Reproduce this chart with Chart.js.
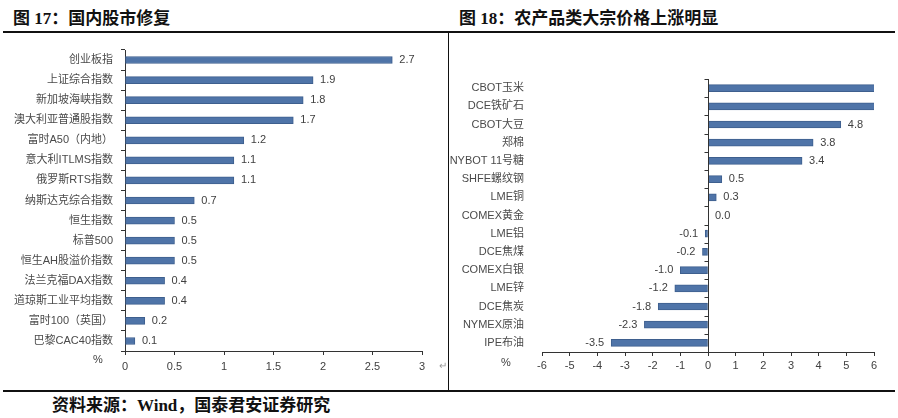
<!DOCTYPE html>
<html>
<head>
<meta charset="utf-8">
<script src="https://cdn.jsdelivr.net/npm/chart.js@4.4.1/dist/chart.umd.min.js"></script>
<style>
    body { margin: 0; background: #fff; width: 898px; height: 418px; position: relative; overflow: hidden; }
    .title { position: absolute; top: 4px; font: bold 17px "Liberation Serif", "Noto Sans CJK SC", serif; color: #111; white-space: nowrap; }
    .line { position: absolute; background: #111; }
    .unit { position: absolute; font: 11px "Liberation Sans", "Noto Sans CJK SC", sans-serif; color: #404040; }
    .source { position: absolute; left: 52px; top: 391px; font: bold 17px "Liberation Serif", "Noto Sans CJK SC", serif; color: #111; white-space: nowrap; }
    canvas { position: absolute; }
</style>
</head>
<body>
<div class="title" style="left:13px">图 17：国内股市修复</div>
<div class="title" style="left:459px">图 18：农产品类大宗价格上涨明显</div>

<div class="line" style="left:3px; top:31px; width:892px; height:1.5px"></div>
<div class="line" style="left:448px; top:31px; width:1px; height:361px"></div>
<div class="line" style="left:3px; top:390px; width:892px; height:1.5px"></div>

<canvas id="stockChart" style="left:0; top:34px" width="448" height="354"></canvas>
<canvas id="commodityChart" style="left:450px; top:34px" width="446" height="354"></canvas>

<div class="unit" style="left:93px; top:353px">%</div>
<div class="unit" style="left:439px; top:360px; color:#999; font-size:10px">↵</div>
<div class="unit" style="left:501px; top:356px">%</div>

<div class="source">资料来源：Wind，国泰君安证券研究</div>

<script>
// 图17 国内股市修复 (%)
const stockNames = ['创业板指', '上证综合指数', '新加坡海峡指数', '澳大利亚普通股指数', '富时A50（内地）',
    '意大利ITLMS指数', '俄罗斯RTS指数', '纳斯达克综合指数', '恒生指数', '标普500',
    '恒生AH股溢价指数', '法兰克福DAX指数', '道琼斯工业平均指数', '富时100（英国）', '巴黎CAC40指数'];
const stockValues = [2.7, 1.9, 1.8, 1.7, 1.2, 1.1, 1.1, 0.7, 0.5, 0.5, 0.5, 0.4, 0.4, 0.2, 0.1];
const stockTicks = [0, 3, 0.5];   // min, max, step

// 图18 农产品类大宗价格上涨明显 (%)
const commodityNames = ['CBOT玉米', 'DCE铁矿石', 'CBOT大豆', '郑棉', 'NYBOT 11号糖',
    'SHFE螺纹钢', 'LME铜', 'COMEX黄金', 'LME铝', 'DCE焦煤',
    'COMEX白银', 'LME锌', 'DCE焦炭', 'NYMEX原油', 'IPE布油'];
const commodityValues = [6.5, 6.3, 4.8, 3.8, 3.4, 0.5, 0.3, 0.0, -0.1, -0.2, -1.0, -1.2, -1.8, -2.3, -3.5];
const commodityTicks = [-6, 6, 1];

const barColor = '#4f74a8';
const textColor = '#404040';
const labelColor = '#4a4a4a';
const axisColor = '#333';

// value labels next to bar ends
const valueLabels = {
    id: 'valueLabels',
    afterDatasetsDraw(chart) {
        const ctx = chart.ctx;
        const xMax = chart.scales.x.max;
        const meta = chart.getDatasetMeta(0);
        const values = chart.data.datasets[0].data;
        ctx.save();
        ctx.font = '11px "Liberation Sans", sans-serif';
        ctx.fillStyle = textColor;
        ctx.textBaseline = 'middle';
        meta.data.forEach((bar, i) => {
            const v = values[i];
            if (v > xMax) return;   // bars running past the axis carry no label
            if (v >= 0) {
                ctx.textAlign = 'left';
                ctx.fillText(v.toFixed(1), bar.x + 7, bar.y);
            } else {
                ctx.textAlign = 'right';
                ctx.fillText(v.toFixed(1), bar.x - 7, bar.y);
            }
        });
        ctx.restore();
    }
};

// vertical axis line at zero with category tick marks (right chart)
const zeroAxis = {
    id: 'zeroAxis',
    afterDatasetsDraw(chart) {
        const ctx = chart.ctx;
        const x0 = Math.round(chart.scales.x.getPixelForValue(0)) + 0.5;
        const yScale = chart.scales.y;
        const n = chart.data.labels.length;
        ctx.save();
        ctx.strokeStyle = axisColor;
        ctx.lineWidth = 1;
        ctx.beginPath();
        ctx.moveTo(x0, chart.chartArea.top);
        ctx.lineTo(x0, chart.chartArea.bottom);
        for (let i = 0; i <= n; i++) {
            const y = Math.round(yScale.getPixelForValue(i - 0.5)) + 0.5;
            ctx.moveTo(x0 - 4, y);
            ctx.lineTo(x0, y);
        }
        ctx.stroke();
        ctx.restore();
    }
};

function makeChart(id, names, values, ticks, opts) {
    const ctx = document.getElementById(id).getContext('2d');
    return new Chart(ctx, {
        type: 'bar',
        data: {
            labels: names,
            datasets: [{
                data: values,
                backgroundColor: barColor,
                borderColor: '#3e5f8e',
                borderWidth: 1,
                borderSkipped: false,
                barThickness: 7
            }]
        },
        options: {
            indexAxis: 'y',
            responsive: false,
            animation: false,
            layout: { padding: { top: opts.top, right: opts.right, left: 0, bottom: 0 } },
            plugins: {
                legend: { display: false },
                tooltip: { enabled: false }
            },
            scales: {
                x: {
                    min: ticks[0],
                    max: ticks[1],
                    afterFit: s => { s.height = opts.xHeight; },
                    border: { color: axisColor, width: 1 },
                    grid: { drawOnChartArea: false, tickLength: 4, color: axisColor },
                    ticks: {
                        stepSize: ticks[2],
                        padding: opts.xPad,
                        color: textColor,
                        font: { family: '"Liberation Sans", sans-serif', size: 11 },
                        callback: v => String(v)
                    }
                },
                y: {
                    afterFit: s => { s.width = opts.yWidth; },
                    border: { display: opts.yBorder, color: axisColor, width: 1 },
                    grid: { display: opts.yBorder, drawOnChartArea: false, tickLength: 4, color: axisColor },
                    ticks: {
                        autoSkip: false,
                        padding: opts.yPad,
                        color: labelColor,
                        font: { family: '"Liberation Sans", "Noto Sans CJK SC", sans-serif', size: 11 }
                    }
                }
            }
        },
        plugins: opts.zero ? [valueLabels, zeroAxis] : [valueLabels]
    });
}

makeChart('stockChart', stockNames, stockValues, stockTicks,
    { top: 16, right: 26, xHeight: 37, yWidth: 125, xPad: 5, yPad: 8, yBorder: true, zero: false });
makeChart('commodityChart', commodityNames, commodityValues, commodityTicks,
    { top: 45, right: 22, xHeight: 36, yWidth: 92, xPad: 3, yPad: 14, yBorder: false, zero: true });
</script>
</body>
</html>
